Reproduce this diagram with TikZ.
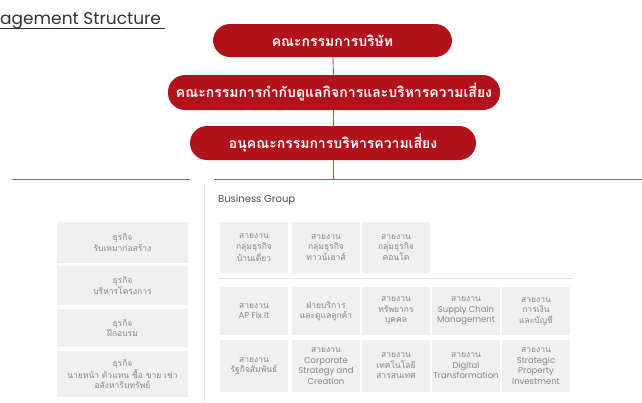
\documentclass[tikz,border=0pt]{standalone}
\usepackage{fontspec}
\setmainfont{Poppins}
\newfontfamily\thaifont[Script=Thai]{Loma}
\newfontfamily\latinfont{Poppins}
\usepackage{tikz}
\usetikzlibrary{positioning}

\definecolor{boardred}{RGB}{178,18,28}
\definecolor{linkred}{RGB}{192,80,88}
\definecolor{boxgrey}{RGB}{240,240,240}
\definecolor{txtgrey}{RGB}{135,135,135}
\definecolor{rulegrey}{RGB}{225,225,225}

\begin{document}
\begin{tikzpicture}[x=1pt,y=-1pt,
	redbox/.style={fill=boardred, text=white, rounded corners=17pt, inner sep=0pt,
		font=\thaifont\bfseries\fontsize{14}{16}\selectfont},
	greybox/.style={fill=boxgrey, text=txtgrey, align=center, inner sep=0pt,
		font=\thaifont\fontsize{8.5}{10.5}\selectfont},
	redline/.style={draw=linkred, line width=0.9pt}]
				\useasboundingbox (0,0) rectangle (642,402);
				
				% title
				\node[anchor=base west, inner sep=0pt, text=black!80,
					font=\latinfont\fontsize{17}{19}\selectfont] (title) at (0,24) {agement Structure};
				\coordinate (ulA) at (0,28.5);
				\coordinate (ulB) at (165,28.5);
				\draw[black!80, line width=0.7pt] (ulA) -- (ulB);
				
				% committees
				\node[redbox, minimum width=239pt, minimum height=33pt] (board) at (332.5,40.5) {คณะกรรมการบริษัท};
				\node[redbox, minimum width=332pt, minimum height=35pt] (govcom) at (334,92.5) {คณะกรรมการกำกับดูแลกิจการและบริหารความเสี่ยง};
				\node[redbox, minimum width=286pt, minimum height=34pt] (riskcom) at (333,143) {อนุคณะกรรมการบริหารความเสี่ยง};
				
				\coordinate (split) at (333,179);
				\coordinate (leftA) at (12,179);
				\coordinate (leftB) at (190,179);
				\coordinate (rightA) at (214,179);
				\coordinate (rightB) at (642,179);
				\draw[redline] (board) -- (govcom);
				\draw[redline] (govcom) -- (riskcom);
				\draw[redline] (riskcom) -- (split);
				\draw[redline] (leftA) -- (leftB);
				\draw[redline] (rightA) -- (rightB);
				
				% divider
				\coordinate (divtop) at (204,184);
				\coordinate (divbot) at (204,402);
				\draw[rulegrey, line width=0.8pt] (divtop) -- (divbot);
				
				\node[anchor=west, inner sep=0pt, text=black!70,
					font=\latinfont\fontsize{10}{12}\selectfont] (bizgroup) at (218,200) {Business Group};
				
				% left column
				\foreach \y/\h/\n/\t in
				{242.5/41/biz1/{ธุรกิจ\\รับเหมาก่อสร้าง},
				 285.5/39/biz2/{ธุรกิจ\\บริหารโครงการ},
				 328/38/biz3/{ธุรกิจ\\ฝึกอบรม},
				 374/46/biz4/{ธุรกิจ\\นายหน้า ตัวแทน ซื้อ ขาย เช่า\\อสังหาริมทรัพย์}}{
					\node[greybox, minimum width=131pt, minimum height=\h pt] (\n) at (122.5,\y) {\t};
				}
				
				% business groups
				\foreach \x/\n/\t in
				{254/grp1/บ้านเดี่ยว, 326/grp2/ทาวน์เฮาส์, 396/grp3/คอนโด}{
					\node[greybox, minimum width=68pt, minimum height=51pt] (\n) at (\x,247.5) {สายงาน\\กลุ่มธุรกิจ\\\t};
				}
				\coordinate (sepA) at (218,278);
				\coordinate (sepB) at (573,278);
				\draw[rulegrey, line width=0.8pt] (sepA) -- (sepB);
				
				% support units
				\foreach \x/\n/\t in
				{254/d11/{สายงาน\\{\latinfont AP Fix It}},
				 326/d12/{ฝ่ายบริการ\\และดูแลลูกค้า},
				 396/d13/{สายงาน\\ทรัพยากร\\บุคคล},
				 466/d14/{สายงาน\\{\latinfont Supply Chain}\\{\latinfont Management}},
				 536/d15/{สายงาน\\การเงิน\\และบัญชี}}{
					\node[greybox, minimum width=68pt, minimum height=48pt] (\n) at (\x,311) {\t};
				}
				\foreach \x/\n/\t in
				{254/d21/{สายงาน\\รัฐกิจสัมพันธ์},
				 326/d22/{สายงาน\\{\latinfont Corporate}\\{\latinfont Strategy and}\\{\latinfont Creation}},
				 396/d23/{สายงาน\\เทคโนโลยี\\สารสนเทศ},
				 466/d24/{สายงาน\\{\latinfont Digital}\\{\latinfont Transformation}},
				 536/d25/{สายงาน\\{\latinfont Strategic}\\{\latinfont Property}\\{\latinfont Investment}}}{
					\node[greybox, minimum width=68pt, minimum height=52pt] (\n) at (\x,366) {\t};
				}
			\end{tikzpicture}
\end{document}
